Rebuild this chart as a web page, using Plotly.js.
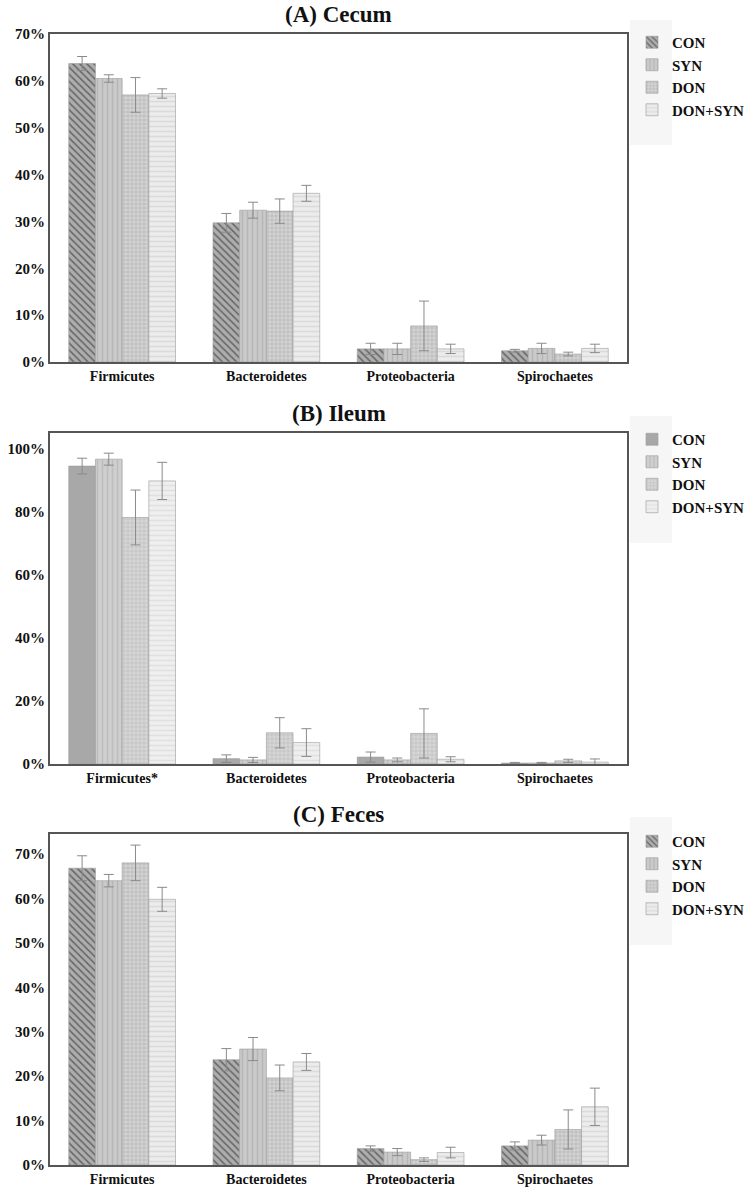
<!DOCTYPE html>
<html>
<head>
<meta charset="utf-8">
<script src="https://cdn.plot.ly/plotly-3.0.1.min.js"></script>
<style>html,body{margin:0;padding:0;background:#fff;}#chart{width:755px;height:1195px;}</style>
</head>
<body>
<div id="chart"></div>
<script>
// ---- data ----
const groups = ['CON', 'SYN', 'DON', 'DON+SYN'];
const phylaCecum = ['Firmicutes', 'Bacteroidetes', 'Proteobacteria', 'Spirochaetes'];
const phylaIleum = ['Firmicutes*', 'Bacteroidetes', 'Proteobacteria', 'Spirochaetes'];
const phylaFeces = ['Firmicutes', 'Bacteroidetes', 'Proteobacteria', 'Spirochaetes'];

// (A) Cecum, mean % and error
const cecumCON = [63.7, 29.7, 2.8, 2.4];
const cecumSYN = [60.5, 32.4, 2.8, 2.9];
const cecumDON = [57.0, 32.2, 7.7, 1.7];
const cecumDONSYN = [57.3, 36.0, 2.8, 2.9];
const cecumCONerr = [1.5, 2.0, 1.2, 0.3];
const cecumSYNerr = [0.8, 1.7, 1.2, 1.1];
const cecumDONerr = [3.7, 2.6, 5.3, 0.4];
const cecumDONSYNerr = [1.0, 1.7, 1.0, 0.9];

// (B) Ileum
const ileumCON = [94.5, 1.7, 2.2, 0.3];
const ileumSYN = [96.7, 1.3, 1.3, 0.3];
const ileumDON = [78.2, 9.9, 9.7, 1.0];
const ileumDONSYN = [89.8, 6.8, 1.5, 0.6];
const ileumCONerr = [2.5, 1.2, 1.6, 0.2];
const ileumSYNerr = [1.9, 0.8, 0.6, 0.2];
const ileumDONerr = [8.7, 4.8, 7.8, 0.5];
const ileumDONSYNerr = [5.9, 4.4, 0.8, 1.0];

// (C) Feces
const fecesCON = [66.8, 23.7, 3.7, 4.3];
const fecesSYN = [64.0, 26.1, 2.9, 5.6];
const fecesDON = [68.0, 19.6, 1.2, 8.0];
const fecesDONSYN = [59.8, 23.2, 2.8, 13.1];
const fecesCONerr = [2.8, 2.5, 0.6, 0.9];
const fecesSYNerr = [1.4, 2.6, 0.8, 1.1];
const fecesDONerr = [4.0, 2.9, 0.4, 4.4];
const fecesDONSYNerr = [2.7, 1.9, 1.2, 4.2];

const panelTitles = ['(A) Cecum', '(B) Ileum', '(C) Feces'];

// ---- styles ----
const SERIF = 'Liberation Serif, Times New Roman, serif';
const styleAC = [
  {bg: '#adadad', fg: '#666666', shape: '\\', size: 5, solidity: 0.3},
  {bg: '#cacaca', fg: '#b6b6b6', shape: '|', size: 5, solidity: 0.3},
  {bg: '#d3d3d3', fg: '#ababab', shape: '+', size: 4, solidity: 0.25},
  {bg: '#ececec', fg: '#dadada', shape: '-', size: 5, solidity: 0.3}
];
const styleB = [
  {bg: '#a8a8a8', fg: '#a2a2a2', shape: '', size: 5, solidity: 0.3},
  {bg: '#cfcfcf', fg: '#bdbdbd', shape: '|', size: 5, solidity: 0.3},
  {bg: '#d6d6d6', fg: '#b8b8b8', shape: '+', size: 4, solidity: 0.25},
  {bg: '#efefef', fg: '#e0e0e0', shape: '-', size: 5, solidity: 0.3}
];

const panels = [
  {cats: phylaCecum, vals: [cecumCON, cecumSYN, cecumDON, cecumDONSYN],
   errs: [cecumCONerr, cecumSYNerr, cecumDONerr, cecumDONSYNerr], style: styleAC},
  {cats: phylaIleum, vals: [ileumCON, ileumSYN, ileumDON, ileumDONSYN],
   errs: [ileumCONerr, ileumSYNerr, ileumDONerr, ileumDONSYNerr], style: styleB},
  {cats: phylaFeces, vals: [fecesCON, fecesSYN, fecesDON, fecesDONSYN],
   errs: [fecesCONerr, fecesSYNerr, fecesDONerr, fecesDONSYNerr], style: styleAC}
];

const W = 755, H = 1195;
const frameLeft = 50, frameRight = 627;
const frames = [ {top: 34, bottom: 362, range: [0, 70], dtick: 10},
                 {top: 433, bottom: 764, range: [0, 105], dtick: 20},
                 {top: 834, bottom: 1165, range: [0, 74.5], dtick: 10} ];
const legendTops = [26, 423, 825];
const legendBg = [[20, 145], [416, 543], [817, 945]];

const traces = [];
const layout = {
  width: W, height: H,
  margin: {l: 0, r: 0, t: 0, b: 0},
  paper_bgcolor: '#ffffff', plot_bgcolor: '#ffffff',
  barmode: 'group', bargap: 0.26, bargroupgap: 0,
  font: {family: SERIF, color: '#111'},
  annotations: [], shapes: []
};

panels.forEach((p, i) => {
  const sfx = i === 0 ? '' : String(i + 1);
  const xa = 'x' + sfx, ya = 'y' + sfx;
  const lg = 'legend' + sfx;
  groups.forEach((g, k) => {
    const st = p.style[k];
    traces.push({
      type: 'bar', name: g, x: p.cats, y: p.vals[k],
      xaxis: xa, yaxis: ya, legend: lg,
      marker: {
        color: st.bg,
        line: {color: '#9a9a9a', width: 0.6},
        pattern: {shape: st.shape, fgcolor: st.fg, bgcolor: st.bg, size: st.size, solidity: st.solidity, fillmode: 'replace'}
      },
      error_y: {type: 'data', array: p.errs[k], visible: true, color: '#8a8a8a', thickness: 1, width: 5},
      hoverinfo: 'skip'
    });
  });
  const f = frames[i];
  layout['xaxis' + sfx] = {
    domain: [frameLeft / W, frameRight / W], anchor: ya,
    showline: true, mirror: true, linecolor: '#555', linewidth: 2,
    showgrid: false, zeroline: false, ticks: '', fixedrange: true,
    tickfont: {family: SERIF, size: 14, weight: 'bold', color: '#111'}
  };
  layout['yaxis' + sfx] = {
    domain: [1 - f.bottom / H, 1 - f.top / H], anchor: xa,
    range: f.range, dtick: f.dtick, tick0: 0, ticksuffix: '%',
    showline: true, mirror: true, linecolor: '#555', linewidth: 2,
    showgrid: false, zeroline: false, ticks: '', fixedrange: true,
    tickfont: {family: SERIF, size: 15, weight: 'bold', color: '#111'}
  };
  layout[lg] = {
    x: 632 / W, xanchor: 'left', y: 1 - legendTops[i] / H, yanchor: 'top',
    bgcolor: 'rgba(0,0,0,0)', borderwidth: 0, itemwidth: 30,
    font: {family: SERIF, size: 15, weight: 'bold', color: '#111'},
    traceorder: 'normal', itemclick: false, itemdoubleclick: false
  };
  layout.annotations.push({
    text: panelTitles[i], xref: 'paper', yref: 'paper',
    x: (frameLeft + frameRight) / 2 / W, y: 1 - (f.top - 19) / H,
    xanchor: 'center', yanchor: 'middle', showarrow: false,
    font: {family: SERIF, size: 23, weight: 'bold', color: '#111'}
  });
  layout.shapes.push({
    type: 'rect', xref: 'paper', yref: 'paper', layer: 'below',
    x0: 630 / W, x1: 672 / W, y0: 1 - legendBg[i][1] / H, y1: 1 - legendBg[i][0] / H,
    fillcolor: '#f6f6f6', line: {width: 0}
  });
});

Plotly.newPlot('chart', traces, layout, {displayModeBar: false, staticPlot: true});
</script>
</body>
</html>
